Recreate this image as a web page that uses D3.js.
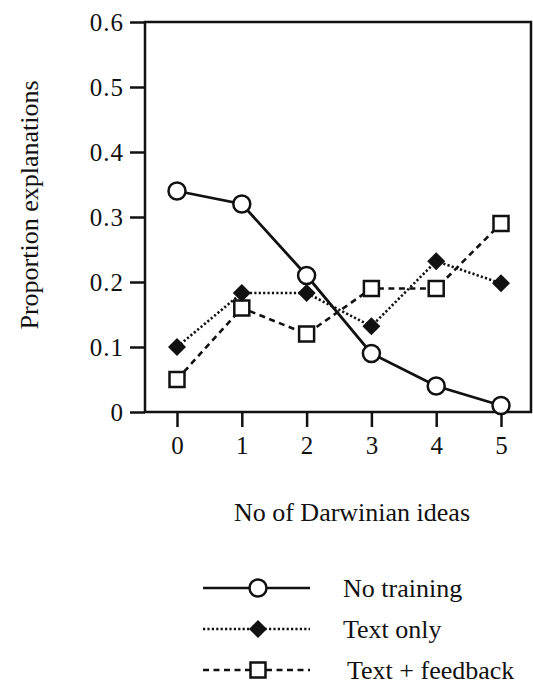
<!DOCTYPE html>
<html><head><meta charset="utf-8">
<script src="https://cdn.jsdelivr.net/npm/d3@7"></script>
<style>body{margin:0;background:#fff}svg{display:block}text{font-family:"Liberation Serif","DejaVu Serif",serif;fill:#111}</style>
</head><body><svg id="c" width="533" height="685"></svg>
<script>
const categories = [0,1,2,3,4,5];
const noTraining = [0.34,0.32,0.21,0.09,0.04,0.01];
const textOnly = [0.10,0.183,0.183,0.132,0.232,0.198];
const textFeedback = [0.05,0.16,0.12,0.19,0.19,0.29];
const yTicks = [0,0.1,0.2,0.3,0.4,0.5,0.6];
const seriesNames = ["No training","Text only","Text + feedback"];

const svg = d3.select("#c");
const x = d3.scaleLinear().domain([0,5]).range([177,501]);
const y = d3.scaleLinear().domain([0,0.6]).range([412,22]);
const left = 145, right = 531;

svg.append("path").attr("d",`M${left},${y(0.6)}H${right}V${y(0)}H${left}Z`)
  .attr("fill","none").attr("stroke","#111").attr("stroke-width",2.5);

const yAxis = svg.append("g").attr("transform",`translate(${left},0)`)
  .call(d3.axisLeft(y).tickValues(yTicks).tickSize(15).tickPadding(6)
  .tickFormat(d=>d===0?"0":d3.format(".1f")(d)));
yAxis.select(".domain").remove();
yAxis.selectAll("line").attr("stroke","#111").attr("stroke-width",2.5);
yAxis.selectAll("text").attr("font-size",25).style("letter-spacing","1px").attr("fill","#111");

const xAxis = svg.append("g").attr("transform",`translate(0,${y(0)})`)
  .call(d3.axisBottom(x).tickValues(categories).tickSize(15).tickPadding(9).tickFormat(d3.format("d")));
xAxis.select(".domain").remove();
xAxis.selectAll("line").attr("stroke","#111").attr("stroke-width",2.5);
xAxis.selectAll("text").attr("font-size",25).attr("fill","#111");

svg.append("text").attr("x",352).attr("y",521).attr("text-anchor","middle").attr("font-size",26).text("No of Darwinian ideas");
svg.append("text").attr("transform","translate(38,205) rotate(-90)").attr("text-anchor","middle").attr("font-size",26).text("Proportion explanations");

const line = d3.line().x((d,i)=>x(categories[i])).y(d=>y(d));
const styles = [
  {data:noTraining, dash:null, marker:"circle"},
  {data:textOnly, dash:"2.2,2.2", marker:"diamond"},
  {data:textFeedback, dash:"6,4.5", marker:"square"}
];
function drawMarker(g, type, cx, cy){
  if(type==="circle") g.append("circle").attr("cx",cx).attr("cy",cy).attr("r",8.5).attr("fill","#fff").attr("stroke","#111").attr("stroke-width",2.5);
  else if(type==="diamond") g.append("path").attr("d",`M${cx},${cy-9}L${cx+9},${cy}L${cx},${cy+9}L${cx-9},${cy}Z`).attr("fill","#111");
  else g.append("rect").attr("x",cx-7.5).attr("y",cy-7.5).attr("width",15).attr("height",15).attr("fill","#fff").attr("stroke","#111").attr("stroke-width",2.5);
}
styles.forEach(s=>{
  svg.append("path").datum(s.data).attr("d",line).attr("fill","none").attr("stroke","#111")
    .attr("stroke-width",s.marker==="circle"?2.8:2.6).attr("stroke-dasharray",s.dash);
});
[2,1,0].forEach(k=>{
  const s=styles[k]; const g=svg.append("g");
  s.data.forEach((v,i)=>drawMarker(g,s.marker,x(categories[i]),y(v)));
});

const legY=[588,629,670], legTx=[343,343,347];
styles.forEach((s,i)=>{
  svg.append("line").attr("x1",203).attr("x2",310).attr("y1",legY[i]).attr("y2",legY[i])
    .attr("stroke","#111").attr("stroke-width",2.6).attr("stroke-dasharray",s.dash);
  drawMarker(svg.append("g"),s.marker,258,legY[i]);
  svg.append("text").attr("x",legTx[i]).attr("y",legY[i]+9).attr("font-size",26).text(seriesNames[i]);
});
</script></body></html>
